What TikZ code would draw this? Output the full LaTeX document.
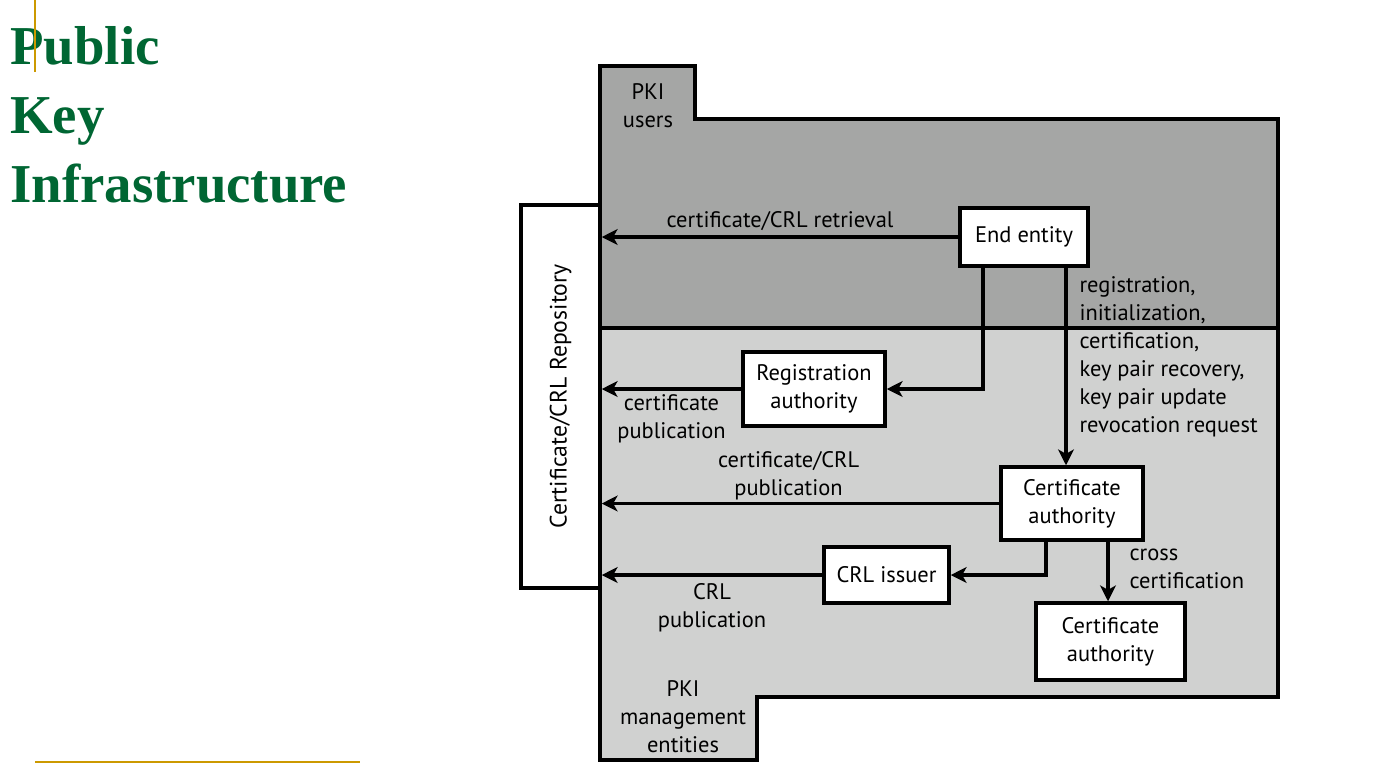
\documentclass[tikz,border=0pt]{standalone}
\usepackage{fontspec}
\setmainfont{PT Sans}
\newfontfamily\titlefont{Liberation Serif}
\usetikzlibrary{arrows.meta}
\definecolor{titlegreen}{HTML}{006633}
\definecolor{rulegold}{HTML}{CC9900}
\definecolor{userzone}{HTML}{A5A6A5}
\definecolor{mgmtzone}{HTML}{D0D1D0}

\begin{document}
\begin{tikzpicture}[
    x=0.02cm, y=-0.02cm,
    block/.style = {draw, rectangle, fill=white, line width=2pt, inner sep=0pt, align=center, font=\fontsize{12.8}{16}\selectfont},
    zone/.style = {draw, line width=2pt},
    line/.style = {-{Stealth[length=9pt, width=9pt, inset=2.5pt]}, line width=1.8pt},
    lbl/.style = {font=\fontsize{12.8}{16}\selectfont, align=center, inner sep=0pt},
    title/.style = {anchor=base west, inner sep=0pt, text=titlegreen, font=\titlefont\bfseries\fontsize{31.2}{38.7}\selectfont}
]
    \useasboundingbox (0,0) rectangle (1389,779);

    % Title
    \node [title] (titlepublic) at (10,64) {Public};
    \node [title] (titlekey) at (10,133) {Key};
    \node [title] (titleinfra) at (10,202) {Infrastructure};
    \draw [rulegold, line width=1pt] (35,0) -- (35,72);
    \draw [rulegold, line width=1pt] (35,762) -- (360,762);

    % Zones
    \draw [zone, fill=userzone] (600,328) -- (600,66) -- (695,66) -- (695,119) -- (1278,119) -- (1278,328) -- cycle;
    \draw [zone, fill=mgmtzone] (600,328) -- (1278,328) -- (1278,697) -- (757,697) -- (757,760) -- (600,760) -- cycle;
    \node [lbl] (userslabel) at (648,106) {PKI\\users};
    \node [lbl] (mgmtlabel) at (683,717) {PKI\\management\\entities};

    % Nodes
    \node [block, rotate=90, minimum width=7.66cm, minimum height=1.58cm, font=\fontsize{13.5}{16}\selectfont] (repository) at (560.5,396.5) {Certificate/CRL Repository};
    \node [block, minimum width=2.56cm, minimum height=1.16cm] (endentity) at (1024,237) {End entity};
    \node [block, minimum width=2.84cm, minimum height=1.48cm] (regauth) at (814,389) {Registration\\authority};
    \node [block, minimum width=2.84cm, minimum height=1.46cm] (certauth) at (1072,503.5) {Certificate\\authority};
    \node [block, minimum width=2.5cm, minimum height=1.12cm] (crlissuer) at (886.5,575) {CRL issuer};
    \node [block, minimum width=2.98cm, minimum height=1.54cm] (crossca) at (1110.5,641.5) {Certificate\\authority};

    % Edges (repository is turned, so its south side faces right)
    \draw [line] (endentity.west) -- node [lbl, above=3pt] {certificate/CRL retrieval} (endentity.west -| repository.south);
    \draw [line] ([xshift=-0.82cm]endentity.south) |- (regauth.east);
    \draw [line] ([xshift=0.84cm]endentity.south) coordinate (eedown) -- node [lbl, pos=0.45, right=0.24cm, align=left] {registration,\\initialization,\\certification,\\key pair recovery,\\key pair update\\revocation request} (eedown |- certauth.north);
    \draw [line] (regauth.west) -- node [lbl, below=2pt] {certificate\\publication} (regauth.west -| repository.south);
    \draw [line] (certauth.west) -- node [lbl, pos=0.53, above=1pt] {certificate/CRL\\publication} (certauth.west -| repository.south);
    \draw [line] ([xshift=-0.52cm]certauth.south) |- (crlissuer.east);
    \draw [line] (crlissuer.west) -- node [lbl, below=4pt] {CRL\\publication} (crlissuer.west -| repository.south);
    \draw [line] ([xshift=0.72cm]certauth.south) coordinate (cadown) -- node [lbl, pos=0.45, right=0.4cm, align=left] {cross\\certification} (cadown |- crossca.north);

\end{tikzpicture}
\end{document}
